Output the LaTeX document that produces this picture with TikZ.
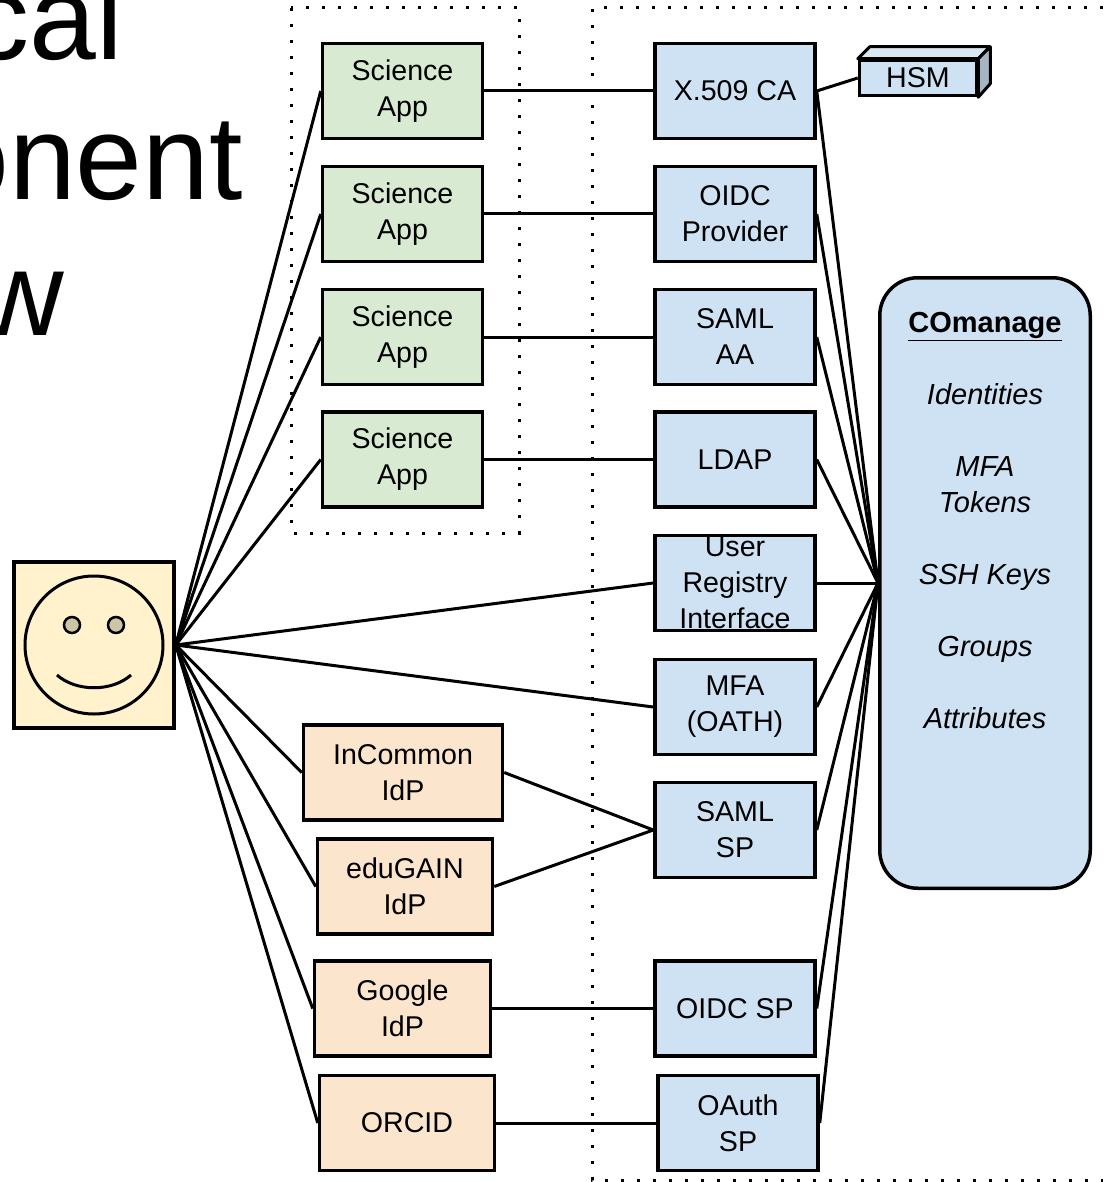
\documentclass[tikz,border=0pt]{standalone}
\usepackage{fontspec}
\setmainfont{Liberation Sans}
\definecolor{appgreen}{HTML}{D9EAD3}
\definecolor{svcblue}{HTML}{CFE2F3}
\definecolor{idporange}{HTML}{FCE5CD}
\definecolor{useryellow}{HTML}{FFF2CC}
\definecolor{eyetan}{HTML}{CCC5A6}
\definecolor{hsmtop}{HTML}{DAE7F3}
\definecolor{hsmside}{HTML}{A5B5C4}

\begin{document}
\begin{tikzpicture}[x=1pt,y=-1pt,
  box/.style={draw,line width=3.5pt,minimum width=160pt,minimum height=95pt,
    inner sep=0pt,align=center,font=\fontsize{28.6}{36}\selectfont},
  app/.style={box,fill=appgreen},
  svc/.style={box,fill=svcblue},
  idp/.style={box,fill=idporange},
  link/.style={line width=3pt},
  zone/.style={line width=3pt,dash pattern=on 3pt off 13pt},
  bigtitle/.style={inner sep=0pt,font=\fontsize{120}{138}\selectfont}]
\useasboundingbox (0,0) rectangle (1103,1182);

% slide title, cut by the left edge
\node[bigtitle,anchor=base east] (title1) at (123,60) {cal};
\node[bigtitle,anchor=base east] (title2) at (243,200) {onent};
\node[bigtitle,anchor=base east] (title3) at (64,335) {w};

% dotted zones
\draw[zone] (291,8) rectangle (519,533);
\draw[zone] (1103,8) -- (592,8) -- (592,1180) -- (1103,1180);

% the user
\node[draw,line width=3.5pt,fill=useryellow,minimum width=160pt,minimum height=166pt] (user) at (94,645) {};
\draw[line width=3pt] (94,645) circle (69);
\draw[line width=2.5pt,fill=eyetan] (72,625) circle (8) (116,625) circle (8);
\draw[line width=3pt] (57,675) .. controls (76,692) and (112,692) .. (131,675);

% science apps
\node[app] (app1) at (402.5,91) {Science\\App};
\node[app] (app2) at (402.5,214) {Science\\App};
\node[app] (app3) at (402.5,337) {Science\\App};
\node[app] (app4) at (402.5,459.5) {Science\\App};

% identity providers
\node[idp,minimum width=199pt] (incommon) at (403,772.5) {InCommon\\IdP};
\node[idp,minimum width=175pt] (edugain) at (405,886.5) {eduGAIN\\IdP};
\node[idp,minimum width=176pt] (google) at (402.5,1008.5) {Google\\IdP};
\node[idp,minimum width=175pt] (orcid) at (407,1123) {ORCID};

% services
\node[svc] (x509) at (735,91) {X.509 CA};
\node[svc] (oidcp) at (735,214) {OIDC\\Provider};
\node[svc] (samlaa) at (735,337) {SAML\\AA};
\node[svc] (ldap) at (735,459.5) {LDAP};
\node[svc,label={[align=center,font=\fontsize{28.6}{36}\selectfont]center:User\\Registry\\Interface}] (uri) at (735,583) {};
\node[svc] (mfa) at (735,707) {MFA\\(OATH)};
\node[svc] (samlsp) at (735,830) {SAML\\SP};
\node[svc] (oidcsp) at (735,1008.5) {OIDC SP};
\node[svc] (oauthsp) at (738,1123) {OAuth\\SP};

% HSM block
\node[svc,minimum width=117pt,minimum height=35pt] (hsm) at (918,78) {HSM};
\draw[line width=3pt,line join=round,fill=hsmtop] (hsm.north west) -- ++(12,-12) -- ++(120,0) -- (hsm.north east) -- cycle;
\draw[line width=3pt,line join=round,fill=hsmside] (hsm.north east) -- ++(12,-12) -- ++(0,37) -- (hsm.south east) -- cycle;

% COmanage
\node[draw,line width=3.5pt,fill=svcblue,rounded corners=38pt,minimum width=210.5pt,minimum height=610.5pt] (co) at (985,583) {};
\node[anchor=north,align=center,inner sep=0pt,font=\fontsize{29}{36}\selectfont] (colist) at (985,312)
  {\underline{\textbf{COmanage}}\\[36pt]\textit{Identities}\\[36pt]\textit{MFA}\\\textit{Tokens}\\[36pt]
   \textit{SSH Keys}\\[36pt]\textit{Groups}\\[36pt]\textit{Attributes}};

% user to apps and providers
\draw[link] (user.east) -- (app1.west);
\draw[link] (user.east) -- (app2.west);
\draw[link] (user.east) -- (app3.west);
\draw[link] (user.east) -- (app4.west);
\draw[link] (user.east) -- (uri.west);
\draw[link] (user.east) -- (mfa.west);
\draw[link] (user.east) -- (incommon.west);
\draw[link] (user.east) -- (edugain.west);
\draw[link] (user.east) -- (google.west);
\draw[link] (user.east) -- (orcid.west);

% apps and providers to services
\draw[link] (app1.east) -- (x509.west);
\draw[link] (app2.east) -- (oidcp.west);
\draw[link] (app3.east) -- (samlaa.west);
\draw[link] (app4.east) -- (ldap.west);
\draw[link] (incommon.east) -- (samlsp.west);
\draw[link] (edugain.east) -- (samlsp.west);
\draw[link] (google.east) -- (oidcsp.west);
\draw[link] (orcid.east) -- (oauthsp.west);
\draw[link] (x509.east) -- (hsm.west);

% services to COmanage
\draw[link] (x509.east) -- (co.west);
\draw[link] (oidcp.east) -- (co.west);
\draw[link] (samlaa.east) -- (co.west);
\draw[link] (ldap.east) -- (co.west);
\draw[link] (uri.east) -- (co.west);
\draw[link] (mfa.east) -- (co.west);
\draw[link] (samlsp.east) -- (co.west);
\draw[link] (oidcsp.east) -- (co.west);
\draw[link] (oauthsp.east) -- (co.west);
\end{tikzpicture}
\end{document}
